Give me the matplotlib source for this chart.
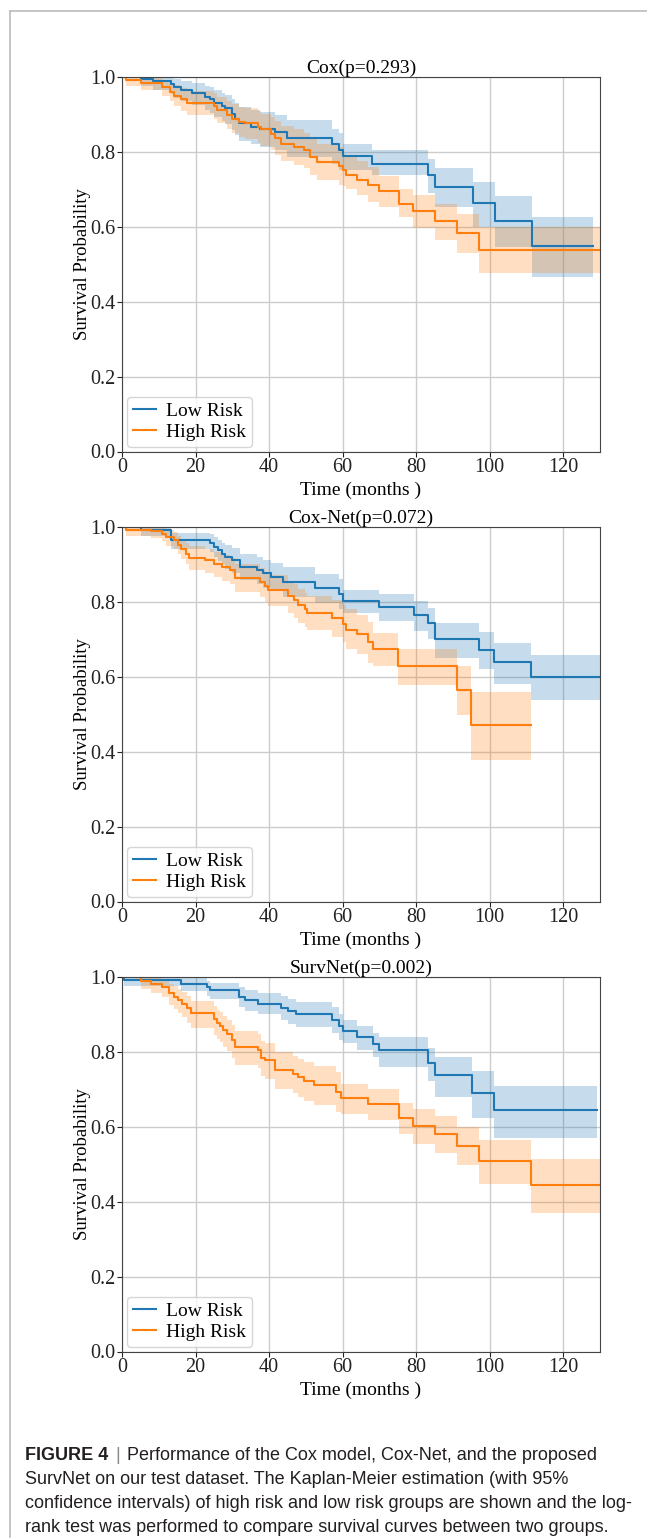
import matplotlib
matplotlib.use("Agg")
import matplotlib.pyplot as plt
from matplotlib.lines import Line2D

# Kaplan-Meier curves (time in months, survival, 95% CI)
titles = ["Cox(p=0.293)", "Cox-Net(p=0.072)", "SurvNet(p=0.002)"]
labels = ["Low Risk", "High Risk"]

# Cox
cox_low_t = [0, 5.2, 8.3, 13.3, 14.2, 16.0, 19.1, 22.7, 24.0, 24.9, 27.2, 28.1, 29.9, 30.8, 31.7,
             35.2, 37.5, 41.5, 45.0, 57.0, 59.1, 60.0, 68.0, 83.1, 85.2, 95.5, 101.5, 111.5, 128.2]
cox_low_s = [1.0, 0.994, 0.988, 0.980, 0.973, 0.966, 0.956, 0.947, 0.940, 0.930, 0.922, 0.916, 0.902,
             0.889, 0.876, 0.867, 0.862, 0.853, 0.836, 0.820, 0.805, 0.788, 0.767, 0.738, 0.707, 0.664,
             0.616, 0.549, 0.549]
cox_low_hi = [1.0, 1.0, 1.0, 0.998, 0.995, 0.99, 0.984, 0.977, 0.972, 0.965, 0.958, 0.953, 0.942, 0.931,
              0.92, 0.912, 0.907, 0.899, 0.884, 0.862, 0.85, 0.822, 0.804, 0.78, 0.756, 0.72, 0.682,
              0.627, 0.627]
cox_low_lo = [1.0, 0.975, 0.965, 0.955, 0.945, 0.936, 0.924, 0.912, 0.903, 0.892, 0.882, 0.875, 0.859,
              0.845, 0.83, 0.82, 0.814, 0.804, 0.786, 0.768, 0.752, 0.751, 0.738, 0.69, 0.653, 0.6,
              0.547, 0.465, 0.465]

cox_high_t = [0, 1.0, 5.2, 11.0, 13.0, 14.2, 16.0, 17.8, 24.9, 25.8, 28.5, 29.9, 31.7, 33.5, 37.0, 37.9,
              40.6, 41.5, 43.3, 46.9, 49.6, 51.0, 52.9, 59.1, 60.0, 60.9, 64.0, 67.0, 70.0, 75.2, 79.1,
              85.2, 91.1, 97.2, 130]
cox_high_s = [1.0, 0.991, 0.985, 0.973, 0.960, 0.950, 0.940, 0.930, 0.922, 0.911, 0.898, 0.889, 0.880,
              0.876, 0.867, 0.860, 0.849, 0.838, 0.822, 0.813, 0.804, 0.787, 0.773, 0.762, 0.751, 0.738,
              0.726, 0.711, 0.695, 0.662, 0.643, 0.615, 0.584, 0.538, 0.538]
cox_high_hi = [1.0, 1.0, 0.998, 0.992, 0.985, 0.978, 0.97, 0.962, 0.956, 0.947, 0.936, 0.928, 0.92, 0.916,
               0.908, 0.902, 0.892, 0.882, 0.868, 0.86, 0.85, 0.835, 0.822, 0.812, 0.795, 0.787, 0.776,
               0.76, 0.735, 0.702, 0.684, 0.662, 0.634, 0.6, 0.6]
cox_high_lo = [1.0, 0.975, 0.966, 0.95, 0.935, 0.922, 0.91, 0.898, 0.888, 0.876, 0.861, 0.85, 0.84, 0.835,
               0.825, 0.817, 0.805, 0.793, 0.775, 0.765, 0.757, 0.739, 0.725, 0.712, 0.71, 0.7, 0.685,
               0.665, 0.653, 0.627, 0.596, 0.564, 0.529, 0.476, 0.476]

# Cox-Net
net_low_t = [0, 5.2, 13.3, 24.0, 24.9, 26.1, 27.2, 28.1, 29.9, 32.1, 36.6, 38.4, 40.6, 43.8, 52.6, 59.1,
             60.0, 70.0, 79.3, 83.1, 85.2, 97.2, 101.1, 111.1, 130]
net_low_s = [1.0, 0.991, 0.964, 0.957, 0.947, 0.938, 0.929, 0.920, 0.911, 0.893, 0.884, 0.876, 0.867,
             0.852, 0.837, 0.820, 0.802, 0.786, 0.766, 0.744, 0.701, 0.671, 0.639, 0.599, 0.599]
net_low_hi = [1.0, 1.0, 0.985, 0.98, 0.973, 0.966, 0.958, 0.951, 0.944, 0.928, 0.92, 0.913, 0.905, 0.892,
              0.875, 0.86, 0.833, 0.82, 0.802, 0.783, 0.744, 0.719, 0.69, 0.659, 0.659]
net_low_lo = [1.0, 0.975, 0.94, 0.932, 0.92, 0.91, 0.9, 0.889, 0.878, 0.858, 0.848, 0.838, 0.828, 0.812,
              0.797, 0.78, 0.771, 0.748, 0.722, 0.7, 0.651, 0.62, 0.581, 0.537, 0.537]

net_high_t = [0, 1.0, 7.9, 11.0, 11.9, 14.2, 15.1, 16.0, 17.3, 18.2, 22.7, 24.9, 27.2, 29.4, 30.8, 37.5,
              38.8, 39.7, 45.1, 46.9, 47.8, 49.7, 50.2, 57.0, 60.0, 60.9, 64.0, 67.0, 68.2, 75.0, 91.1,
              95.0, 111.1]
net_high_s = [1.0, 0.991, 0.988, 0.982, 0.973, 0.964, 0.953, 0.942, 0.929, 0.918, 0.911, 0.902, 0.893,
              0.884, 0.865, 0.853, 0.842, 0.831, 0.815, 0.804, 0.791, 0.780, 0.771, 0.757, 0.742, 0.726,
              0.713, 0.692, 0.675, 0.628, 0.564, 0.470, 0.470]
net_high_hi = [1.0, 1.0, 1.0, 0.998, 0.993, 0.986, 0.977, 0.968, 0.957, 0.948, 0.942, 0.934, 0.926, 0.918,
               0.902, 0.891, 0.881, 0.871, 0.857, 0.847, 0.835, 0.825, 0.817, 0.804, 0.793, 0.78, 0.765,
               0.745, 0.717, 0.675, 0.63, 0.559, 0.559]
net_high_lo = [1.0, 0.975, 0.97, 0.962, 0.95, 0.94, 0.927, 0.914, 0.9, 0.886, 0.878, 0.867, 0.857, 0.847,
               0.826, 0.812, 0.8, 0.788, 0.77, 0.758, 0.744, 0.732, 0.724, 0.707, 0.693, 0.675, 0.66,
               0.638, 0.628, 0.577, 0.497, 0.378, 0.378]

# SurvNet
sn_low_t = [0, 0.5, 16.0, 23.1, 24.0, 31.7, 33.5, 37.0, 43.3, 45.1, 47.4, 57.0, 59.1, 60.0, 64.0, 68.2,
            70.0, 83.1, 85.2, 95.2, 101.1, 129.1]
sn_low_s = [1.0, 0.991, 0.982, 0.973, 0.964, 0.947, 0.938, 0.929, 0.918, 0.908, 0.900, 0.886, 0.870,
            0.857, 0.839, 0.820, 0.804, 0.771, 0.737, 0.691, 0.644, 0.644]
sn_low_hi = [1.0, 1.0, 0.996, 0.99, 0.985, 0.972, 0.965, 0.957, 0.948, 0.94, 0.933, 0.92, 0.9, 0.884,
             0.868, 0.85, 0.839, 0.81, 0.786, 0.748, 0.71, 0.71]
sn_low_lo = [1.0, 0.975, 0.962, 0.95, 0.94, 0.92, 0.91, 0.9, 0.886, 0.874, 0.866, 0.85, 0.832, 0.825,
             0.806, 0.786, 0.76, 0.722, 0.68, 0.624, 0.571, 0.571]

sn_high_t = [0, 5.2, 7.9, 11.0, 12.8, 14.2, 15.1, 16.4, 17.8, 18.7, 24.9, 25.8, 26.7, 27.6, 28.5, 29.9,
             30.8, 37.0, 37.9, 38.8, 41.5, 46.5, 47.8, 49.6, 52.3, 58.1, 59.5, 67.0, 75.2, 79.1, 85.2,
             91.1, 97.2, 111.1, 130]
sn_high_s = [1.0, 0.989, 0.982, 0.973, 0.956, 0.947, 0.938, 0.929, 0.916, 0.904, 0.887, 0.876, 0.869,
             0.858, 0.847, 0.831, 0.813, 0.804, 0.785, 0.778, 0.753, 0.742, 0.733, 0.722, 0.711, 0.694,
             0.676, 0.660, 0.624, 0.602, 0.580, 0.550, 0.508, 0.444, 0.444]
sn_high_hi = [1.0, 1.0, 1.0, 0.995, 0.982, 0.975, 0.967, 0.959, 0.948, 0.937, 0.922, 0.912, 0.906, 0.896,
              0.886, 0.872, 0.855, 0.847, 0.83, 0.823, 0.8, 0.79, 0.782, 0.772, 0.762, 0.745, 0.713, 0.7,
              0.664, 0.648, 0.628, 0.599, 0.564, 0.515, 0.515]
sn_high_lo = [1.0, 0.968, 0.958, 0.946, 0.926, 0.915, 0.904, 0.893, 0.878, 0.865, 0.846, 0.834, 0.826,
              0.814, 0.802, 0.785, 0.766, 0.756, 0.736, 0.728, 0.702, 0.69, 0.68, 0.669, 0.658, 0.64,
              0.633, 0.618, 0.58, 0.555, 0.529, 0.497, 0.446, 0.371, 0.371]

caption_lines = [
    "Performance of the Cox model, Cox-Net, and the proposed",
    "SurvNet on our test dataset. The Kaplan-Meier estimation (with 95%",
    "confidence intervals) of high risk and low risk groups are shown and the log-",
    "rank test was performed to compare survival curves between two groups.",
]

panels = [
    [(cox_low_t, cox_low_s, cox_low_lo, cox_low_hi), (cox_high_t, cox_high_s, cox_high_lo, cox_high_hi)],
    [(net_low_t, net_low_s, net_low_lo, net_low_hi), (net_high_t, net_high_s, net_high_lo, net_high_hi)],
    [(sn_low_t, sn_low_s, sn_low_lo, sn_low_hi), (sn_high_t, sn_high_s, sn_high_lo, sn_high_hi)],
]
colors = ["#1f77b4", "#ff7f0e"]

plt.rcParams["font.family"] = ["Liberation Serif", "DejaVu Serif"]
plt.rcParams["font.size"] = 14

W, H = 647, 1539
fig = plt.figure(figsize=(W / 100, H / 100), dpi=100)

ax_left, ax_right = 122, 600
ax_tops = [77, 527, 977]
ax_h = 374.5

for i, top in enumerate(ax_tops):
    ax = fig.add_axes([ax_left / W, 1 - (top + ax_h) / H, (ax_right - ax_left) / W, ax_h / H])
    for (t, s, lo, hi), c, lab in zip(panels[i], colors, labels):
        ax.fill_between(t, lo, hi, step="post", color=c, alpha=0.25, linewidth=0)
        ax.plot(t, s, drawstyle="steps-post", color=c, linewidth=1.5, label=lab)
    ax.set_xlim(0, 130)
    ax.set_ylim(0, 1.0)
    ax.set_xticks([0, 20, 40, 60, 80, 100, 120])
    ax.set_yticks([0.0, 0.2, 0.4, 0.6, 0.8, 1.0])
    ax.set_yticklabels(["0.0", "0.2", "0.4", "0.6", "0.8", "1.0"])
    ax.grid(True, color="#cccccc", linewidth=1.0)
    ax.set_axisbelow(True)
    for sp in ax.spines.values():
        sp.set_color("#444444")
    ax.tick_params(colors="#222222", labelsize=14.5, direction="out", length=3.5, pad=1.5)
    ax.set_title(titles[i], fontsize=14, pad=2)
    ax.set_xlabel("Time (months )", fontsize=14, labelpad=3)
    ax.set_ylabel("Survival Probability", fontsize=13.5, labelpad=-1)
    ax.legend(loc="lower left", fontsize=14, handlelength=1.2, borderaxespad=0.25,
              handletextpad=0.5, borderpad=0.3, labelspacing=0.15)

# frame around the figure panel
fig.add_artist(Line2D([10 / W, 1.0], [1 - 10.5 / H, 1 - 10.5 / H], color="#bbbbbb", linewidth=1.2))
fig.add_artist(Line2D([10 / W, 10 / W], [1 - 10.5 / H, 1 - 1537 / H], color="#bbbbbb", linewidth=1.2))

# caption
cap_font = ["Liberation Sans", "DejaVu Sans"]
cap_x = 25
cap_y0 = 1455
cap_dy = 24
cap_fs = 13
fig.canvas.draw()
renderer = fig.canvas.get_renderer()
bold = fig.text(cap_x / W, 1 - cap_y0 / H, "FIGURE 4", family=cap_font, fontsize=cap_fs,
                fontweight="bold", color="#231f20", va="center", ha="left")
bb = bold.get_window_extent(renderer)
bar = fig.text((bb.x1 + 7) / W, 1 - cap_y0 / H, "|", family=cap_font, fontsize=cap_fs,
               color="#888888", va="center", ha="left")
bb2 = bar.get_window_extent(renderer)
fig.text((bb2.x1 + 7) / W, 1 - cap_y0 / H, caption_lines[0], family=cap_font, fontsize=cap_fs,
         color="#231f20", va="center", ha="left")
for k, line in enumerate(caption_lines[1:], start=1):
    fig.text(cap_x / W, 1 - (cap_y0 + k * cap_dy) / H, line, family=cap_font, fontsize=cap_fs,
             color="#231f20", va="center", ha="left")

fig.savefig("out.png", dpi=100)
